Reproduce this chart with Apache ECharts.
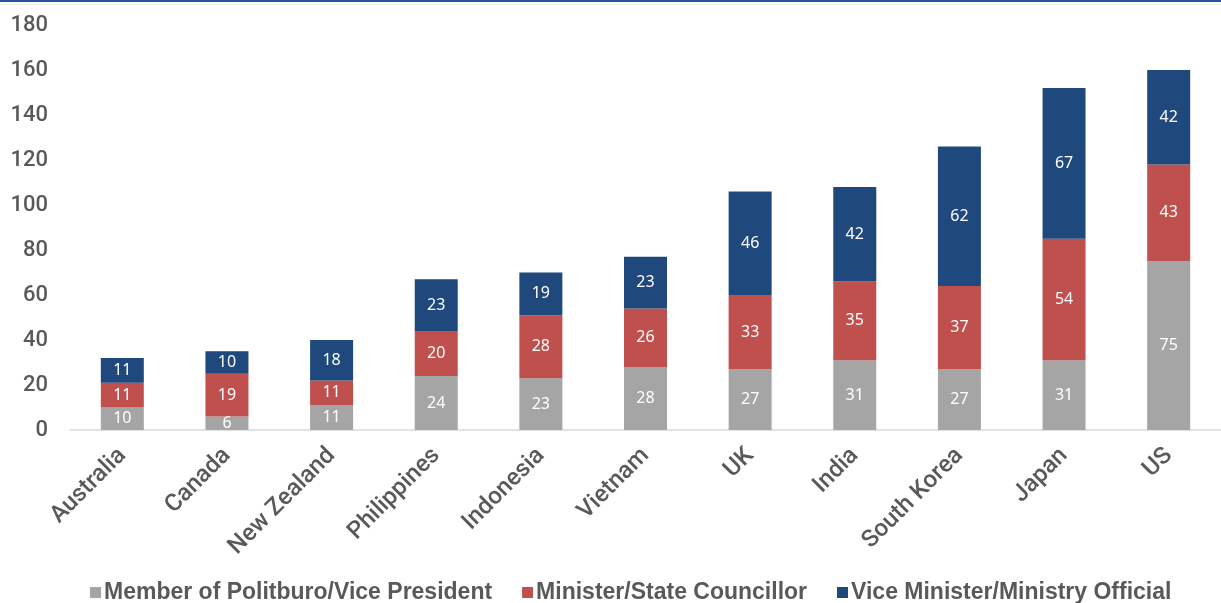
<!DOCTYPE html>
<html><head><meta charset="utf-8">
<script src="https://cdn.jsdelivr.net/npm/echarts@6/dist/echarts.min.js"></script>
<style>html,body{margin:0;padding:0;background:#fff}#c{width:1221px;height:603px}</style>
</head><body><div id="c"></div>
<script>
const categories = ['Australia','Canada','New Zealand','Philippines','Indonesia','Vietnam','UK','India','South Korea','Japan','US'];
const politburo = [10,6,11,24,23,28,27,31,27,31,75];
const minister = [11,19,11,20,28,26,33,35,37,54,43];
const viceMinister = [11,10,18,23,19,23,46,42,62,67,42];
const seriesNames = ['Member of Politburo/Vice President','Minister/State Councillor','Vice Minister/Ministry Official'];
const yTicks = [0,20,40,60,80,100,120,140,160,180];

const chart = echarts.init(document.getElementById('c'));
const colors = ['#a5a5a5','#c0504d','#1f497d'];
const lbl = {show:true, position:'inside', color:'#fff', fontSize:16, fontFamily:'Noto Sans'};
function mk(name, data, i){
  return {name, type:'bar', stack:'t', data, barWidth:43, itemStyle:{color:colors[i]}, label:lbl};
}
chart.setOption({
  animation:false,
  graphic:[{type:'rect', shape:{x:0,y:0,width:1221,height:2}, style:{fill:'#2a4f9a'}},
           {type:'rect', shape:{x:0,y:4,width:1221,height:1}, style:{fill:'#eeeeee'}}],
  grid:{left:70, right:-12, top:25, bottom:173, containLabel:false},
  legend:{bottom:-6, left:85, itemWidth:11, itemHeight:11, itemGap:30, icon:'rect',
    textStyle:{fontSize:23, color:'#595959', fontFamily:'Liberation Sans', fontWeight:'bold', padding:[0,0,0,-2]},
    data:seriesNames},
  xAxis:{type:'category', data:categories,
    axisLine:{lineStyle:{color:'#d9d9d9', width:1.5}}, axisTick:{show:false},
    axisLabel:{rotate:45, fontSize:24, color:'#595959', fontFamily:'Roboto', fontWeight:500, interval:0, margin:22}},
  yAxis:{type:'value', min:0, max:180, interval:20,
    splitLine:{show:false}, axisLine:{show:false}, axisTick:{show:false},
    axisLabel:{fontSize:22, color:'#595959', fontFamily:'Roboto', fontWeight:500, margin:22,
      formatter:v=>yTicks.includes(v)?String(v):''}},
  series:[mk(seriesNames[0],politburo,0), mk(seriesNames[1],minister,1), mk(seriesNames[2],viceMinister,2)]
});
</script></body></html>
